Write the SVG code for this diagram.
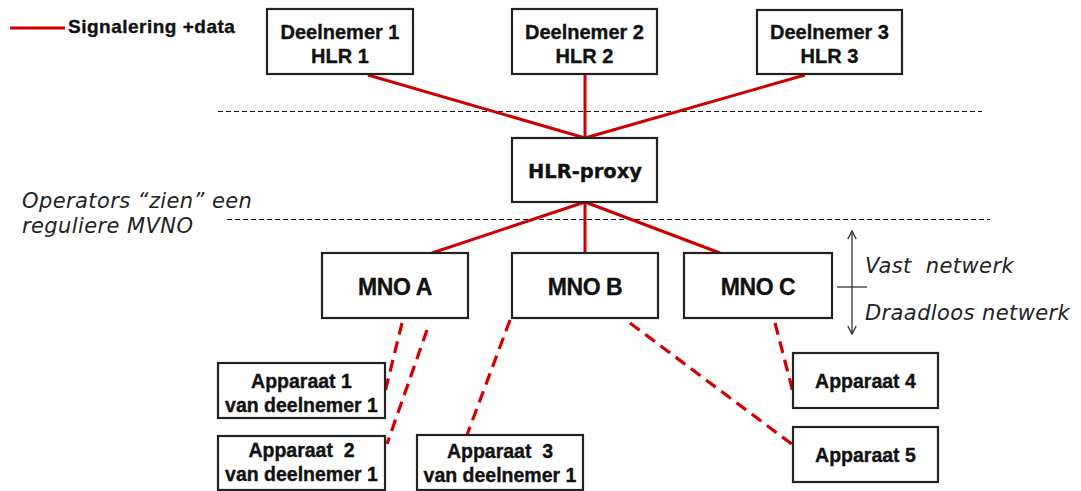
<svg xmlns="http://www.w3.org/2000/svg" width="1081" height="491" viewBox="0 0 1081 491">
<defs>
<style>
.box{fill:#fff;stroke:#222;stroke-width:2.2}
.t{font-family:"Liberation Sans",Arial,sans-serif;font-weight:bold;fill:#111;stroke:#111;stroke-width:0.35;text-anchor:middle}
.it{font-family:"DejaVu Sans",Verdana,sans-serif;font-style:italic;fill:#222;font-size:21px;letter-spacing:0.4px;white-space:pre}
.sol{stroke:#cc0000;stroke-width:3;fill:none}
.dsh{stroke:#d40000;stroke-width:3.2;fill:none;stroke-dasharray:12 7}
.sep{stroke:#111;stroke-width:1.1;stroke-dasharray:5 3;fill:none}
.thin{stroke:#333;stroke-width:1.3;fill:none}
</style>
<marker id="ah" viewBox="0 0 10 10" refX="9" refY="5" markerWidth="10" markerHeight="10" orient="auto-start-reverse" markerUnits="userSpaceOnUse">
<path d="M1,0.8 L9,5 L1,9.2" fill="none" stroke="#333" stroke-width="1.4"/>
</marker>
</defs>
<rect width="1081" height="491" fill="#fff"/>

<g id="legend">
<line x1="10" y1="28" x2="65" y2="28" class="sol"/>
<text x="68" y="33" class="t" style="text-anchor:start;font-size:19px;letter-spacing:0.5px">Signalering +data</text>
</g>

<g id="separators">
<line x1="218" y1="111.5" x2="982" y2="111.5" class="sep"/>
<line x1="227" y1="219.5" x2="990" y2="219.5" class="sep"/>
</g>

<g id="connectors">
<line x1="368" y1="75" x2="585" y2="138" class="sol"/>
<line x1="585" y1="75" x2="585" y2="138" class="sol"/>
<line x1="805" y1="75" x2="585" y2="138" class="sol"/>
<line x1="585" y1="202" x2="432" y2="253" class="sol"/>
<line x1="585" y1="202" x2="585" y2="253" class="sol"/>
<line x1="585" y1="202" x2="720" y2="253" class="sol"/>
<line x1="402" y1="323" x2="385" y2="392" class="dsh"/>
<line x1="427" y1="330" x2="387" y2="444" class="dsh"/>
<line x1="510" y1="320" x2="467" y2="435" class="dsh"/>
<line x1="630" y1="323" x2="793" y2="445" class="dsh"/>
<line x1="775" y1="323" x2="793" y2="392" class="dsh"/>
</g>

<g id="deelnemer1"><rect x="267" y="9" width="146" height="65" class="box"/>
<text x="340" y="39" class="t" font-size="20">Deelnemer 1</text><text x="340" y="63" class="t" font-size="20">HLR 1</text></g>
<g id="deelnemer2"><rect x="512" y="9" width="145" height="65" class="box"/>
<text x="584.5" y="39" class="t" font-size="20">Deelnemer 2</text><text x="584.5" y="63" class="t" font-size="20">HLR 2</text></g>
<g id="deelnemer3"><rect x="757" y="10" width="145" height="64" class="box"/>
<text x="829.5" y="39" class="t" font-size="20">Deelnemer 3</text><text x="829.5" y="63" class="t" font-size="20">HLR 3</text></g>

<g id="hlrproxy"><rect x="512" y="138" width="145" height="64" class="box"/>
<text x="585" y="178" class="t" style="font-family:'DejaVu Sans',Verdana,sans-serif;font-size:19.5px">HLR-proxy</text></g>

<g id="mnoA"><rect x="322" y="253" width="146" height="65" class="box"/>
<text x="395" y="295" class="t" font-size="23" letter-spacing="-0.4">MNO A</text></g>
<g id="mnoB"><rect x="512" y="253" width="146" height="65" class="box"/>
<text x="585" y="295" class="t" font-size="23" letter-spacing="-0.4">MNO B</text></g>
<g id="mnoC"><rect x="684" y="253" width="148" height="65" class="box"/>
<text x="758" y="295" class="t" font-size="23" letter-spacing="-0.4">MNO C</text></g>

<g id="app1"><rect x="218" y="363" width="167" height="55" class="box"/>
<text x="301.5" y="388" class="t" font-size="19.5">Apparaat 1</text><text x="301.5" y="412" class="t" font-size="19.5">van deelnemer 1</text></g>
<g id="app2"><rect x="218" y="436" width="167" height="54" class="box"/>
<text x="301.5" y="457" class="t" font-size="19.5" style="white-space:pre">Apparaat  2</text><text x="301.5" y="481" class="t" font-size="19.5">van deelnemer 1</text></g>
<g id="app3"><rect x="417" y="435" width="166" height="55" class="box"/>
<text x="500" y="458" class="t" font-size="19.5" style="white-space:pre">Apparaat  3</text><text x="500" y="482" class="t" font-size="19.5">van deelnemer 1</text></g>
<g id="app4"><rect x="793" y="353" width="145" height="55" class="box"/>
<text x="865.5" y="388" class="t" font-size="19.5">Apparaat 4</text></g>
<g id="app5"><rect x="793" y="427" width="145" height="55" class="box"/>
<text x="865.5" y="462" class="t" font-size="19.5">Apparaat 5</text></g>

<g id="labels">
<text x="22" y="208" class="it">Operators “zien” een</text>
<text x="22" y="233" class="it">reguliere MVNO</text>
<text x="865" y="273" class="it">Vast  netwerk</text>
<text x="865" y="320" class="it">Draadloos netwerk</text>
<line x1="852" y1="231" x2="852" y2="334" class="thin" marker-start="url(#ah)" marker-end="url(#ah)"/>
<line x1="837" y1="287" x2="867" y2="287" class="thin"/>
</g>
</svg>
